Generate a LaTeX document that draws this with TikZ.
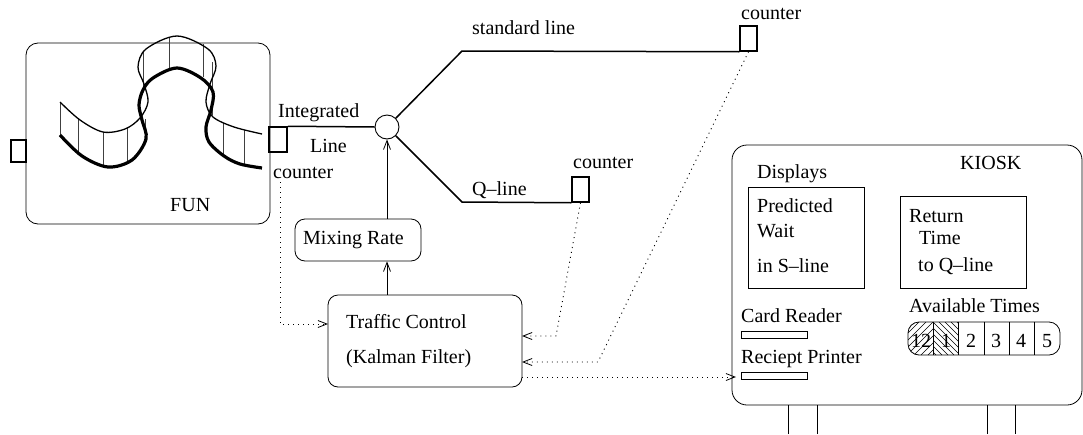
\documentclass[tikz,border=0pt]{standalone}
\usepackage{fontspec}
\setmainfont{Liberation Serif}
\usetikzlibrary{arrows.meta}
\begin{document}
\begin{tikzpicture}[x=1pt,y=-1pt,font=\fontsize{20}{24}\selectfont,
  lbl/.style={inner sep=0pt,anchor=base west},
  clbl/.style={inner sep=0pt,anchor=base},
  thinbox/.style={draw,line width=0.8pt,inner sep=0pt},
  rbox/.style={thinbox,rounded corners=10pt},
  cntbox/.style={draw,line width=1.5pt,inner sep=0pt,minimum width=17pt,minimum height=25pt},
  mainline/.style={line width=1.5pt},
  tip/.style={-{Straight Barb[length=9pt,width=7pt,line width=0.8pt]}},
  solidarrow/.style={tip,line width=0.9pt},
  dotarrow/.style={tip,line width=0.9pt,dash pattern=on 1pt off 4pt},
  ribthin/.style={line width=1.3pt},
  ribthick/.style={line width=3.2pt},
  ribhatch/.style={line width=0.8pt,black!75},
  slothatch/.style={line width=0.6pt}]
\useasboundingbox (0,0) rectangle (1083,434);

% ---------------- FUN ride ----------------
\node[rbox,rounded corners=12pt,minimum width=244pt,minimum height=181pt] (fun) at (148,133.5) {};
\node[thinbox,line width=1.3pt,minimum width=15pt,minimum height=22pt] (entry) at (18.5,151) {};
\node[lbl] (funlbl) at (170,211) {FUN};

% twisted track: vertical struts between the two rails
\foreach \xa/\ya/\yb in {60/102/135, 78/119/153, 103/132/167, 127/128/161, 145/119/139,
    143/52/92, 169/37/70, 203/44/77, 212/62/115, 223/123/156, 244/130/164}
  \draw[ribhatch] (\xa,\ya) -- (\xa,\yb);
\draw[ribthin] plot[smooth,tension=0.55] coordinates {(60,102) (80,120) (103,132) (125,129)
  (140,118) (148,102) (144,84) (138,67) (146,49) (177,36) (208,49) (216,66) (210,84)
  (206,102) (213,117) (234,127) (262,134)};
\draw[ribthick] plot[smooth,tension=0.55] coordinates {(60,135) (82,156) (108,167) (132,160)
  (146,139) (142,120) (139,105) (143,90) (153,78) (177,68) (201,78) (213,92) (211,110)
  (206,127) (209,142) (224,156) (240,164) (262,168)};

% ---------------- queue lines ----------------
\node[cntbox,minimum width=18pt] (intcnt) at (278,139.5) {};
\node[circle,draw,line width=0.9pt,minimum size=24pt,inner sep=0pt] (hub) at (387,127) {};
\node[cntbox] (scnt) at (748.5,38.5) {};
\node[cntbox] (qcnt) at (580.5,189.5) {};
\coordinate (sbend) at (462,51);
\coordinate (qbend) at (462,202);
\draw[mainline] (intcnt.north east) -- (hub.west);
\draw[mainline] (hub.45) -- (sbend) -- (scnt.south west);
\draw[mainline] (hub.-45) -- (qbend) -- (qcnt.south west);

\node[lbl] (stdlbl) at (472,34) {standard line};
\node[lbl] (scntlbl) at (741,19) {counter};
\node[lbl] (intlbl) at (278,117) {Integrated};
\node[lbl] (linelbl) at (310,152) {Line};
\node[lbl] (fcntlbl) at (273,178) {counter};
\node[lbl] (qcntlbl) at (573,168) {counter};
\node[lbl] (qlbl) at (472,195) {Q–line};

% ---------------- control ----------------
\node[rbox,minimum width=126pt,minimum height=42pt] (mix) at (358,240) {};
\node[lbl] (mixlbl) at (303,244) {Mixing Rate};
\node[rbox,minimum width=194pt,minimum height=92pt] (traffic) at (425,341) {};
\node[lbl] (tclbl) at (346,328) {Traffic Control};
\node[lbl] (kflbl) at (346,363) {(Kalman Filter)};

\draw[solidarrow] (hub.south |- mix.north) -- (hub.south);
\draw[solidarrow] (hub.south |- traffic.north) -- (hub.south |- mix.south);

% ---------------- measurement / output links ----------------
\coordinate (fcntout) at (280,182);
\coordinate (tin1) at (328,324);
\coordinate (qdrop) at (556,336);
\coordinate (tin2) at (522,336);
\coordinate (sdrop) at (598,362);
\coordinate (tin3) at (522,362);
\coordinate (tout) at (522,377);
\coordinate (kin) at (736,377);
\draw[dotarrow] (fcntout) |- (tin1);
\draw[dotarrow] (qcnt.south) -- (qdrop) -- (tin2);
\draw[dotarrow] (scnt.south) -- (sdrop) -- (tin3);
\draw[dotarrow] (tout) -- (kin);

% ---------------- kiosk ----------------
\node[rbox,rounded corners=15pt,minimum width=350pt,minimum height=260pt] (kiosk) at (907,275) {};
\coordinate (legA1) at (788,434); \coordinate (legA2) at (817,434);
\coordinate (legB1) at (987,434); \coordinate (legB2) at (1015,434);
\draw[line width=0.8pt] (legA1) -- (legA1 |- kiosk.south) (legA2) -- (legA2 |- kiosk.south);
\draw[line width=0.8pt] (legB1) -- (legB1 |- kiosk.south) (legB2) -- (legB2 |- kiosk.south);

\node[lbl] (kiosklbl) at (960,169) {KIOSK};
\node[lbl] (displbl) at (757,178) {Displays};
\node[thinbox,minimum width=116pt,minimum height=101pt] (disp1) at (806,237.5) {};
\node[lbl] (d1a) at (757,212) {Predicted};
\node[lbl] (d1b) at (757,237) {Wait};
\node[lbl] (d1c) at (757,272) {in S–line};
\node[thinbox,minimum width=126pt,minimum height=92pt] (disp2) at (963,242) {};
\node[lbl] (d2a) at (909,222) {Return};
\node[lbl] (d2b) at (919,244) {Time};
\node[lbl] (d2c) at (918,271) {to Q–line};

\node[lbl] (cardlbl) at (741,322) {Card Reader};
\node[thinbox,minimum width=66pt,minimum height=7pt] (card) at (774,334.5) {};
\node[lbl] (prnlbl) at (741,363) {Reciept Printer};
\node[thinbox,minimum width=66pt,minimum height=7pt] (prn) at (774,375.5) {};

% available return-time slots
\node[lbl] (availlbl) at (909,312) {Available Times};
\begin{scope}
  \clip[rounded corners=11pt] (908,322) rectangle (1060,355);
  \begin{scope}
    \clip (900,322) rectangle (933,355);
    \foreach \s in {-42,-35,...,42} \draw[slothatch] (900+\s,355) -- (933+\s,322);
  \end{scope}
  \begin{scope}
    \clip (933,322) rectangle (958,355);
    \foreach \s in {-42,-36,...,42} \draw[slothatch] (933+\s,322) -- (966+\s,355);
  \end{scope}
\end{scope}
\node[thinbox,rounded corners=11pt,minimum width=152pt,minimum height=33pt] (slots) at (984,338.5) {};
\foreach \xd in {933,958,984,1009,1034}
  \draw[line width=0.8pt] (\xd,0 |- slots.north) -- (\xd,0 |- slots.south);
\foreach \xc/\t in {921/12,946/1,971/2,996/3,1021/4,1047/5}
  \node[clbl] (slot\t) at (\xc,347) {\t};
\end{tikzpicture}
\end{document}
